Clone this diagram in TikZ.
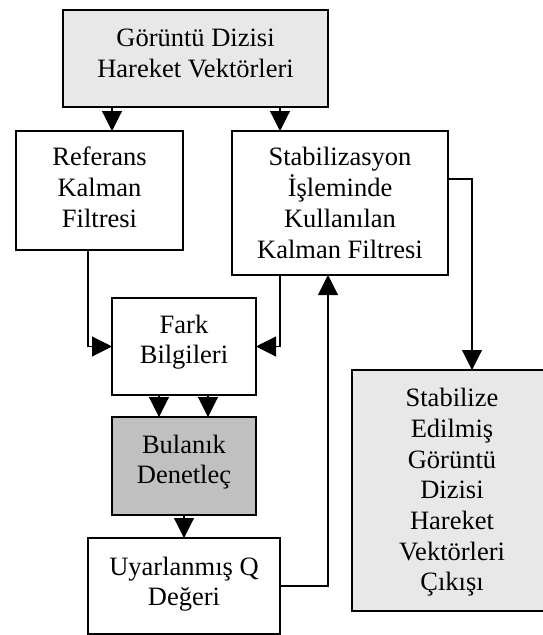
\documentclass[tikz,border=0pt]{standalone}
\usepackage{fontspec}
\setmainfont{Liberation Serif}
\usetikzlibrary{arrows.meta}
\definecolor{lightfill}{RGB}{232,232,232}
\definecolor{darkfill}{RGB}{192,192,192}
\newcommand\boxtext[1]{\begin{tabular}[t]{@{}c@{}}#1\end{tabular}}
\begin{document}
\begin{tikzpicture}[x=1pt,y=-1pt,
  box/.style={draw=black, line width=1.3pt, inner sep=0pt, outer sep=0pt, anchor=north west,
              font={\fontsize{26.5}{30.7}\selectfont}},
  conn/.style={line width=1.1pt, -{Triangle[length=20pt,width=20pt]}}
]
\useasboundingbox (0,0) rectangle (542,635);

\node[box, fill=lightfill, minimum width=265pt, minimum height=97pt, text height=36.6pt, text depth=60.4pt]
  (src) at (63,10) {\boxtext{Görüntü Dizisi\\Hareket Vektörleri}};
\node[box, fill=white, minimum width=167pt, minimum height=119pt, text height=34.7pt, text depth=84.3pt]
  (ref) at (16,131) {\boxtext{Referans\\Kalman\\Filtresi}};
\node[box, fill=white, minimum width=216pt, minimum height=144pt, text height=34.7pt, text depth=109.3pt]
  (stab) at (232,131) {\boxtext{Stabilizasyon\\İşleminde\\Kullanılan\\Kalman Filtresi}};
\node[box, fill=white, minimum width=144pt, minimum height=97pt, text height=35pt, text depth=62pt]
  (fark) at (112,298) {\boxtext{Fark\\Bilgileri}};
\node[box, fill=darkfill, minimum width=144pt, minimum height=98pt, text height=36pt, text depth=62pt]
  (bul) at (112,417) {\boxtext{Bulanık\\Denetleç}};
\node[box, fill=white, minimum width=192pt, minimum height=96pt, text height=37pt, text depth=59pt]
  (uyar) at (88,538) {\boxtext{Uyarlanmış Q\\Değeri}};
\node[box, fill=lightfill, minimum width=200pt, minimum height=241pt, text height=36.7pt, text depth=204.3pt]
  (out) at (352,370) {\boxtext{Stabilize\\Edilmiş\\Görüntü\\Dizisi\\Hareket\\Vektörleri\\Çıkışı}};

\draw[conn] ([xshift=12.5pt]ref.north |- src.south) -- ([xshift=12.5pt]ref.north);
\draw[conn] ([xshift=-60pt]stab.north |- src.south) -- ([xshift=-60pt]stab.north);
\draw[conn] ([xshift=-11.5pt]ref.south) |- (fark.west);
\draw[conn] ([xshift=-60pt]stab.south) |- (fark.east);
\draw[conn] ([xshift=-25pt]fark.south) -- ([xshift=-25pt]bul.north);
\draw[conn] ([xshift=24pt]fark.south) -- ([xshift=24pt]bul.north);
\draw[conn] (bul.south) -- (uyar.north);
\draw[conn] (uyar.east) -| ([xshift=-12pt]stab.south);
\draw[conn] ([yshift=24pt]stab.east) -| ([xshift=20pt]out.north);
\end{tikzpicture}
\end{document}
